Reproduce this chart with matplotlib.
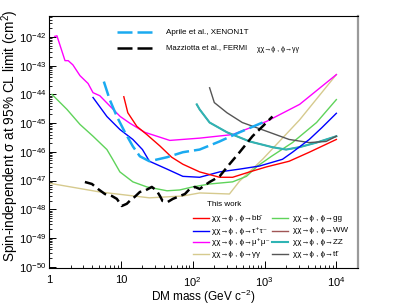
import matplotlib
matplotlib.use("Agg")
import matplotlib.pyplot as plt
from matplotlib.lines import Line2D

plt.rcParams['font.family'] = ['Liberation Sans', 'DejaVu Sans']
plt.rcParams['mathtext.fontset'] = 'custom'
plt.rcParams['mathtext.rm'] = 'Liberation Sans'
plt.rcParams['mathtext.it'] = 'Liberation Sans:italic'
plt.rcParams['mathtext.bf'] = 'Liberation Sans:bold'

# --- data (mass in GeV, sigma in cm^2) ---
mumu_m = [1.2, 1.29, 1.67, 1.85, 2.15, 2.7, 3.5, 4.1, 5.1, 7.0, 9.8, 13.3, 21.5, 48, 125, 360, 1070, 3080, 10000]
mumu_s = [1.05e-42, 1.1e-42, 1.5e-43, 1.5e-43, 1.07e-43, 4.5e-44, 2.4e-44, 1.15e-44, 9e-45, 4e-45, 1.7e-45,
          1e-45, 4.8e-46, 2.5e-46, 3e-46, 4e-46, 1.15e-45, 4.5e-45, 4.9e-44]

gg_m = [1.1, 1.78, 2.7, 4.1, 6.4, 7.7, 9.7, 14.7, 23, 44, 66, 100, 173, 360, 560, 800, 1250, 2450, 5300, 10000]
gg_s = [1e-44, 3e-45, 9e-46, 3.5e-46, 1.2e-46, 5.5e-47, 2e-47, 9e-48, 6e-48, 4.4e-48, 4.7e-48, 6e-48,
        7.6e-48, 9e-48, 1.4e-47, 3.2e-47, 7e-47, 2.1e-46, 1.05e-45, 6.6e-45]

aa_m = [1.03, 5.1, 25, 73, 125, 325, 450, 940, 3080, 10000]
aa_s = [8e-48, 4e-48, 2.5e-48, 2.9e-48, 3.7e-48, 3.4e-48, 9.6e-48, 5.5e-47, 1.3e-45, 4.9e-44]

bb_m = [11, 12.5, 16.7, 23, 35, 51, 73, 125, 237, 360, 620, 1070, 2200, 4200, 10000]
bb_s = [8.3e-45, 2.3e-45, 7.7e-46, 4e-46, 1.6e-46, 6.5e-47, 3.7e-47, 2e-47, 1.3e-47, 1.3e-47,
        2e-47, 3e-47, 4.7e-47, 9.7e-47, 2.7e-46]

tautau_m = [4.1, 6.4, 9.7, 14.7, 20, 25, 44, 73, 125, 237, 450, 850, 1780, 2450, 4200, 6300, 10000]
tautau_s = [7.8e-45, 1.7e-45, 6e-46, 2.7e-46, 1.2e-46, 4.7e-47, 2.5e-47, 1.4e-47, 1.3e-47, 2e-47,
            2.5e-47, 3.2e-47, 5.5e-47, 9.7e-47, 2.7e-46, 7e-46, 2.2e-45]

zz_m = [114, 125, 172, 300, 620, 1290, 2000, 3050, 5300, 10000]
zz_s = [4.5e-45, 3e-45, 1.05e-45, 4.8e-46, 2.3e-46, 1.45e-46, 1.2e-46, 1.45e-46, 2.1e-46, 3.5e-46]

ww_m = [114, 125, 172, 300, 620, 1290, 2000, 3050, 5300, 10000]
ww_s = [4.4e-45, 3e-45, 1.05e-45, 4.8e-46, 2.3e-46, 1.45e-46, 1.2e-46, 1.45e-46, 2.1e-46, 3.5e-46]

tt_m = [172, 200, 300, 490, 1070, 2200, 4200, 7200, 10000]
tt_s = [1.7e-44, 5.2e-45, 2.3e-45, 1.05e-45, 5.2e-46, 2.7e-46, 2.1e-46, 2.3e-46, 3.5e-46]

xenon_m = [5.8, 7, 8.8, 11.4, 14.7, 18.4, 25, 44, 73, 125, 237, 450, 940]
xenon_s = [2.8e-44, 6.6e-45, 1.7e-45, 4.8e-46, 1.55e-46, 7e-47, 4.7e-47, 6.5e-47, 9.7e-47, 1.2e-46,
           2.3e-46, 4.8e-46, 1.05e-45]

fermi_m = [3.16, 3.96, 4.8, 6.0, 7.5, 8.8, 10.3, 12.1, 14.2, 15.6, 18.4, 21.5, 27, 31.6, 35, 38, 45,
           53, 62, 78, 91, 107, 125, 172, 237, 325, 450, 680, 940, 1290]
fermi_s = [8.9e-48, 7.6e-48, 5.1e-48, 3.4e-48, 2.9e-48, 2.3e-48, 1.3e-48, 1.55e-48, 2.3e-48, 2.7e-48,
           4e-48, 4.4e-48, 6e-48, 4.4e-48, 2.9e-48, 1.95e-48, 1.8e-48, 2.3e-48, 2.7e-48, 3.4e-48,
           5.1e-48, 6e-48, 5.1e-48, 8.9e-48, 1.4e-47, 3.7e-47, 9.7e-47, 3.5e-46, 7.7e-46, 1.7e-45]

c_red, c_blue, c_mag, c_tan = '#ff0000', '#0000ff', '#ff00ff', '#d6ca8e'
c_green, c_ww, c_zz, c_tt = '#5fd35a', '#a05555', '#2fb4b4', '#555555'
c_xenon = '#1aaaf0'

fig = plt.figure(figsize=(3.99, 3.08), dpi=100)
ax = fig.add_axes([0.1228, 0.1299, 0.7744, 0.819])

ax.plot(aa_m, aa_s, color=c_tan, lw=1.0)
ax.plot(gg_m, gg_s, color=c_green, lw=1.0)
ax.plot(mumu_m, mumu_s, color=c_mag, lw=1.0)
ax.plot(ww_m, ww_s, color=c_ww, lw=1.0)
ax.plot(zz_m, zz_s, color=c_zz, lw=1.5)
ax.plot(tt_m, tt_s, color=c_tt, lw=1.0)
ax.plot(tautau_m, tautau_s, color=c_blue, lw=1.0)
ax.plot(bb_m, bb_s, color=c_red, lw=1.0)
ax.plot(xenon_m, xenon_s, color=c_xenon, lw=1.8, dashes=(6, 2))
ax.plot(fermi_m, fermi_s, color='black', lw=1.8, dashes=(4, 2))

ax.set_xscale('log')
ax.set_yscale('log')
ax.set_xlim(1, 2e4)
ax.set_ylim(9e-51, 5.5e-42)

ax.set_xticks([1, 10, 100, 1000, 10000])
ax.set_xticklabels(['1', '10', r'$10^{2}$', r'$10^{3}$', r'$10^{4}$'])
ax.set_yticks([10.0 ** e for e in range(-50, -41)])
ax.set_yticklabels([r'$10^{%d}$' % e for e in range(-50, -41)])
ax.tick_params(which='both', direction='in', top=False, right=False, labelsize=8)
ax.tick_params(which='major', length=5, width=0.7)
ax.tick_params(which='minor', length=2.5, width=0.6)
ax.tick_params(axis='x', pad=5)
ax.tick_params(axis='y', pad=2)
for s in ['left', 'bottom', 'top']:
    ax.spines[s].set_linewidth(0.8)
ax.spines['right'].set_color('#9a9a9a')
ax.spines['right'].set_linewidth(1.6)

fig.text(0.509, 0.036, r'DM mass (GeV c$^{-2}$)', ha='center', va='center', fontsize=8.5)
fig.text(0.026, 0.558, r'Spin-independent σ at 95% CL limit (cm$^{2}$)',
         ha='center', va='center', rotation=90, fontsize=9.8)

# top legend
tr = ax.transAxes
ax.add_line(Line2D([0.220, 0.350], [0.935, 0.935], transform=tr, color=c_xenon, lw=1.8, dashes=(6, 2)))
ax.text(0.379, 0.935, 'Aprile et al., XENON1T', transform=tr, fontsize=5.8, va='center')
ax.add_line(Line2D([0.220, 0.350], [0.872, 0.872], transform=tr, color='black', lw=1.8, dashes=(6, 2)))
ax.text(0.379, 0.872, 'Mazziotta et al., FERMI', transform=tr, fontsize=5.6, va='center')
ax.text(0.672, 0.866, 'χχ→ϕ , ϕ→γγ', transform=tr, fontsize=5.0, va='center')

# bottom legend
ax.text(0.511, 0.250, 'This work', transform=tr, fontsize=5.8, va='center')
left_col = [(c_red, 'χχ→ϕ , ϕ→bb̄'), (c_blue, 'χχ→ϕ , ϕ→τ⁺τ⁻'),
            (c_mag, 'χχ→ϕ , ϕ→μ⁺μ⁻'), (c_tan, 'χχ→ϕ , ϕ→γγ')]
right_col = [(c_green, 'χχ→ϕ , ϕ→gg'), (c_ww, 'χχ→ϕ , ϕ→WW'),
             (c_zz, 'χχ→ϕ , ϕ→ZZ'), (c_tt, 'χχ→ϕ , ϕ→tt̄')]
rows = [0.198, 0.147, 0.103, 0.055]
for (c, t), y in zip(left_col, rows):
    ax.add_line(Line2D([0.466, 0.518], [y, y], transform=tr, color=c, lw=1.0))
    ax.text(0.527, y, t, transform=tr, fontsize=5.8, va='center')
for (c, t), y in zip(right_col, rows):
    ax.add_line(Line2D([0.722, 0.773], [y, y], transform=tr, color=c, lw=1.5 if c == c_zz else 1.0))
    ax.text(0.790, y, t, transform=tr, fontsize=5.8, va='center')

fig.savefig('out.png', dpi=100)
